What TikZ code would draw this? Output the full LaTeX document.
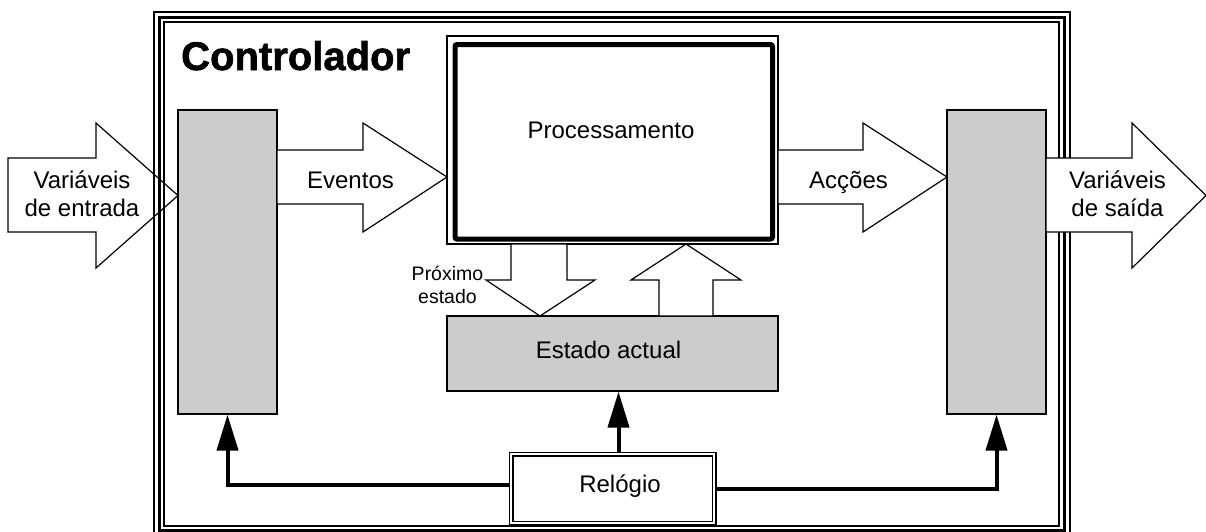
\documentclass[tikz,border=0pt]{standalone}
\usepackage{fontspec}
\setmainfont{Liberation Sans}
\newfontfamily\titlefont[FakeBold=1.5]{Liberation Sans Bold}
\usetikzlibrary{arrows.meta}
\definecolor{boxgray}{HTML}{CCCCCC}
\tikzset{
  ln/.style={line width=1.2pt},
  graybox/.style={draw, fill=boxgray, line width=1.2pt, inner sep=0pt},
  blockarrow/.style={draw, fill=white, line width=1.2pt, line join=miter},
  clk/.style={line width=4pt, -{Triangle[length=36pt,width=21pt]}, line join=miter},
  lbl/.style={font=\fontsize{24}{28}\selectfont, inner sep=0pt, anchor=base},
  smalllbl/.style={font=\fontsize{19.5}{23}\selectfont, inner sep=0pt, anchor=base, align=center},
}
\begin{document}
\begin{tikzpicture}[x=1pt,y=-1pt]
\useasboundingbox (0,0) rectangle (1206,531);
% input arrow (behind frame)
\draw[blockarrow] (8,158) -- (96,158) -- (96,123) -- (178,195.5) -- (96,268) -- (96,232) -- (8,232) -- cycle;
% frame
\begin{scope}
\clip (0,0) rectangle (1206,531);
\draw[ln] (154,12) rectangle (1070,536);
\draw[line width=3pt] (159,17) rectangle (1064.5,530.5);
\draw[ln] (164,22) rectangle (1059,526);
\end{scope}
% blocks
\node[graybox, minimum width=99pt, minimum height=304pt] (inb) at (227.5,262) {};
\node[graybox, minimum width=99pt, minimum height=304pt] (outb) at (996.5,262) {};
\node[graybox, minimum width=331pt, minimum height=75pt] (estado) at (612.5,353.5) {};
\node[draw, ln, fill=white, minimum width=331pt, minimum height=208pt, inner sep=0pt] (proc) at (612.5,140) {};
\draw[line width=5pt, rounded corners=2pt] (455,44.5) rectangle (772.5,239);
\node[draw, double, double distance=2.6pt, ln, fill=white, minimum width=203pt, minimum height=69pt, inner sep=0pt] (rel) at (612.5,488.5) {};
% block arrows
\draw[blockarrow] (277,150) -- (363,150) -- (363,123) -- (447,177) -- (363,232) -- (363,204) -- (277,204) -- cycle;
\draw[blockarrow] (778,150) -- (863,150) -- (863,123) -- (947,177) -- (863,232) -- (863,204) -- (778,204) -- cycle;
\draw[blockarrow] (1046,158) -- (1132,158) -- (1132,123) -- (1206,195.5) -- (1132,268) -- (1132,232) -- (1046,232) -- cycle;
\draw[blockarrow] (511,244) -- (567,244) -- (567,280) -- (595,280) -- (540,316) -- (486,280) -- (511,280) -- cycle;
\draw[blockarrow] (659,316) -- (659,280) -- (631,280) -- (686,244) -- (741,280) -- (713,280) -- (713,316) -- cycle;
% clock connectors
\draw[clk] ([yshift=3.5pt]rel.west) -| (inb.south);
\draw[clk] (rel.east) -| (outb.south);
\draw[clk] ([xshift=6pt]rel.north) -- ([xshift=6pt]estado.south);
% texts
\node[font=\titlefont\fontsize{40}{48}\selectfont, anchor=base west, inner sep=0pt] at (181,70) {Controlador};
\node[lbl] at (611,138) {Processamento};
\node[lbl] at (608.5,358) {Estado actual};
\node[lbl] at (620,492) {Relógio};
\node[lbl] at (350.5,188) {Eventos};
\node[lbl] at (848.5,188) {Acções};
\node[lbl, align=center] at (82,216) {Variáveis\\de entrada};
\node[lbl, align=center] at (1117.5,216) {Variáveis\\de saída};
\node[smalllbl] at (447.5,303) {Próximo\\estado};
\end{tikzpicture}
\end{document}
